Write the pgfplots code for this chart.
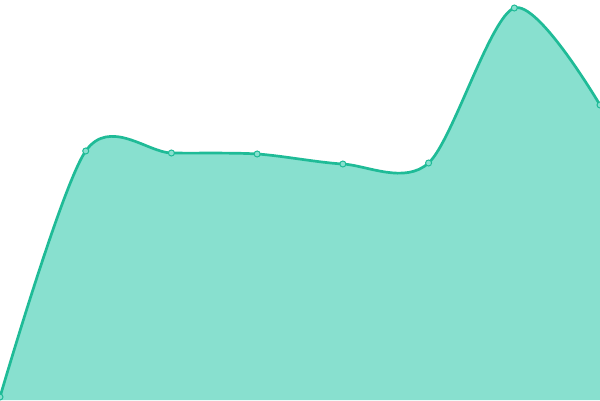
\documentclass[border=0pt]{standalone}
\usepackage{pgfplots}
\pgfplotsset{compat=1.18}
\definecolor{lineteal}{HTML}{1FBB97}
\definecolor{areateal}{HTML}{88E0CF}
\begin{document}
\begin{tikzpicture}
\begin{axis}[
  width=300pt, height=200pt, scale only axis,
  hide axis,
  xmin=0, xmax=7, ymin=0, ymax=400,
  clip marker paths=true,
]
\addplot[draw=none, fill=areateal, smooth, tension=0.5]
  coordinates {(0,3) (1,249) (2,247) (3,246) (4,236) (5,237) (6,392) (7,295)}
  \closedcycle;
\addplot[lineteal, line width=1.35pt, smooth, tension=0.5,
  mark=*, mark size=1.5pt, mark options={fill=areateal, draw=lineteal, line width=0.5pt}]
  coordinates {(0,3) (1,249) (2,247) (3,246) (4,236) (5,237) (6,392) (7,295)};
\end{axis}
\pgfresetboundingbox
\path (current axis.south west) rectangle (current axis.north east);
\end{tikzpicture}
\end{document}
